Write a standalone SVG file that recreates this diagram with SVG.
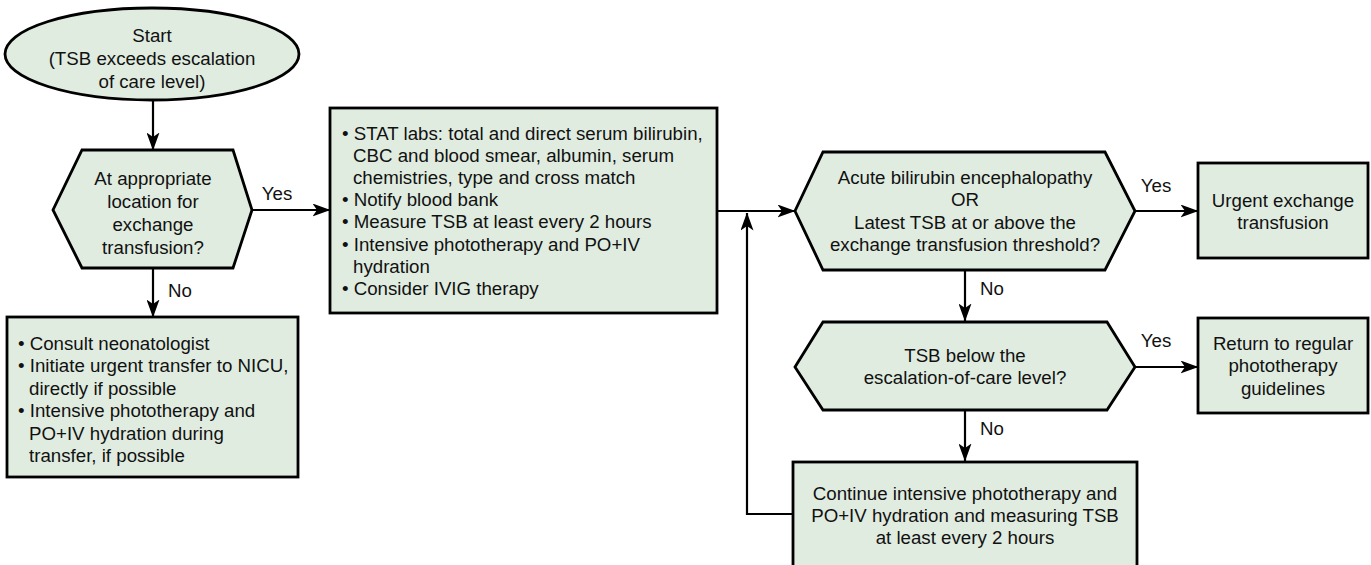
<svg xmlns="http://www.w3.org/2000/svg" width="1371" height="565" viewBox="0 0 1371 565">
<style>
.shape{fill:#e0ece0;stroke:#000;stroke-width:2.8}
.t{font-family:"Liberation Sans",Arial,sans-serif;font-size:18.7px;fill:#111}
.c{text-anchor:middle}
.conn{fill:none;stroke:#000;stroke-width:2.2}
</style>
<defs>
<marker id="ah" markerUnits="userSpaceOnUse" viewBox="0 0 18 13" refX="17.5" refY="6.5" markerWidth="18" markerHeight="13" orient="auto">
<path d="M0,0 L18,6.5 L0,13 L4.5,6.5 z" fill="#000"/>
</marker>
</defs>
<rect width="1371" height="565" fill="#fff"/>

<g id="connectors">
<line class="conn" x1="153" y1="100" x2="153" y2="150" marker-end="url(#ah)"/>
<line class="conn" x1="252" y1="210" x2="330" y2="210" marker-end="url(#ah)"/>
<line class="conn" x1="153" y1="268" x2="153" y2="317" marker-end="url(#ah)"/>
<line class="conn" x1="717" y1="211" x2="795" y2="211" marker-end="url(#ah)"/>
<line class="conn" x1="1135" y1="211" x2="1198" y2="211" marker-end="url(#ah)"/>
<line class="conn" x1="965" y1="270" x2="965" y2="321" marker-end="url(#ah)"/>
<line class="conn" x1="1135" y1="367" x2="1198" y2="367" marker-end="url(#ah)"/>
<line class="conn" x1="965" y1="410" x2="965" y2="461" marker-end="url(#ah)"/>
<polyline class="conn" points="793,514 747,514 747,213" marker-end="url(#ah)"/>
<text class="t c" x="277" y="199.5">Yes</text>
<text class="t c" x="180" y="296.5">No</text>
<text class="t c" x="1156" y="191.5">Yes</text>
<text class="t c" x="992" y="294.5">No</text>
<text class="t c" x="1156" y="346.5">Yes</text>
<text class="t c" x="992" y="434.5">No</text>
</g>

<g id="start">
<ellipse class="shape" cx="152" cy="54" rx="147" ry="46"/>
<text class="t c" x="152" y="41.5">Start</text>
<text class="t c" x="152" y="64.5">(TSB exceeds escalation</text>
<text class="t c" x="152" y="88">of care level)</text>
</g>

<g id="location">
<polygon class="shape" points="82,150 233,150 252,210 233,268 82,268 53,210"/>
<text class="t c" x="153" y="184.5">At appropriate</text>
<text class="t c" x="153" y="207.5">location for</text>
<text class="t c" x="153" y="230.5">exchange</text>
<text class="t c" x="153" y="253.5">transfusion?</text>
</g>

<g id="transfer">
<rect class="shape" x="7" y="317" width="291" height="160"/>
<text class="t" x="18" y="349.5">• Consult neonatologist</text>
<text class="t" x="18" y="372">• Initiate urgent transfer to NICU,</text>
<text class="t" x="29" y="394.5">directly if possible</text>
<text class="t" x="18" y="417">• Intensive phototherapy and</text>
<text class="t" x="29" y="439.5">PO+IV hydration during</text>
<text class="t" x="29" y="462">transfer, if possible</text>
</g>

<g id="labs">
<rect class="shape" x="330" y="108" width="387" height="205"/>
<text class="t" x="342" y="139.5">• STAT labs: total and direct serum bilirubin,</text>
<text class="t" x="353" y="161.7">CBC and blood smear, albumin, serum</text>
<text class="t" x="353" y="183.9">chemistries, type and cross match</text>
<text class="t" x="342" y="206.1">• Notify blood bank</text>
<text class="t" x="342" y="228.3">• Measure TSB at least every 2 hours</text>
<text class="t" x="342" y="250.5">• Intensive phototherapy and PO+IV</text>
<text class="t" x="353" y="272.7">hydration</text>
<text class="t" x="342" y="294.9">• Consider IVIG therapy</text>
</g>

<g id="encephalopathy">
<polygon class="shape" points="823,152 1105,152 1135,211 1105,270 823,270 795,211"/>
<text class="t c" x="965" y="183.5">Acute bilirubin encephalopathy</text>
<text class="t c" x="965" y="206">OR</text>
<text class="t c" x="965" y="228.5">Latest TSB at or above the</text>
<text class="t c" x="965" y="251">exchange transfusion threshold?</text>
</g>

<g id="urgent">
<rect class="shape" x="1198" y="163" width="170" height="95"/>
<text class="t c" x="1283" y="206.5">Urgent exchange</text>
<text class="t c" x="1283" y="228.5">transfusion</text>
</g>

<g id="below">
<polygon class="shape" points="823,322 1107,322 1135,367 1107,410 823,410 795,367"/>
<text class="t c" x="965" y="361.5">TSB below the</text>
<text class="t c" x="965" y="384">escalation-of-care level?</text>
</g>

<g id="return">
<rect class="shape" x="1198" y="318" width="170" height="95"/>
<text class="t c" x="1283" y="349.5">Return to regular</text>
<text class="t c" x="1283" y="372">phototherapy</text>
<text class="t c" x="1283" y="394.5">guidelines</text>
</g>

<g id="continue">
<rect class="shape" x="793" y="462" width="344" height="120"/>
<text class="t c" x="965" y="499.5">Continue intensive phototherapy and</text>
<text class="t c" x="965" y="521.5">PO+IV hydration and measuring TSB</text>
<text class="t c" x="965" y="543.5">at least every 2 hours</text>
</g>
</svg>
